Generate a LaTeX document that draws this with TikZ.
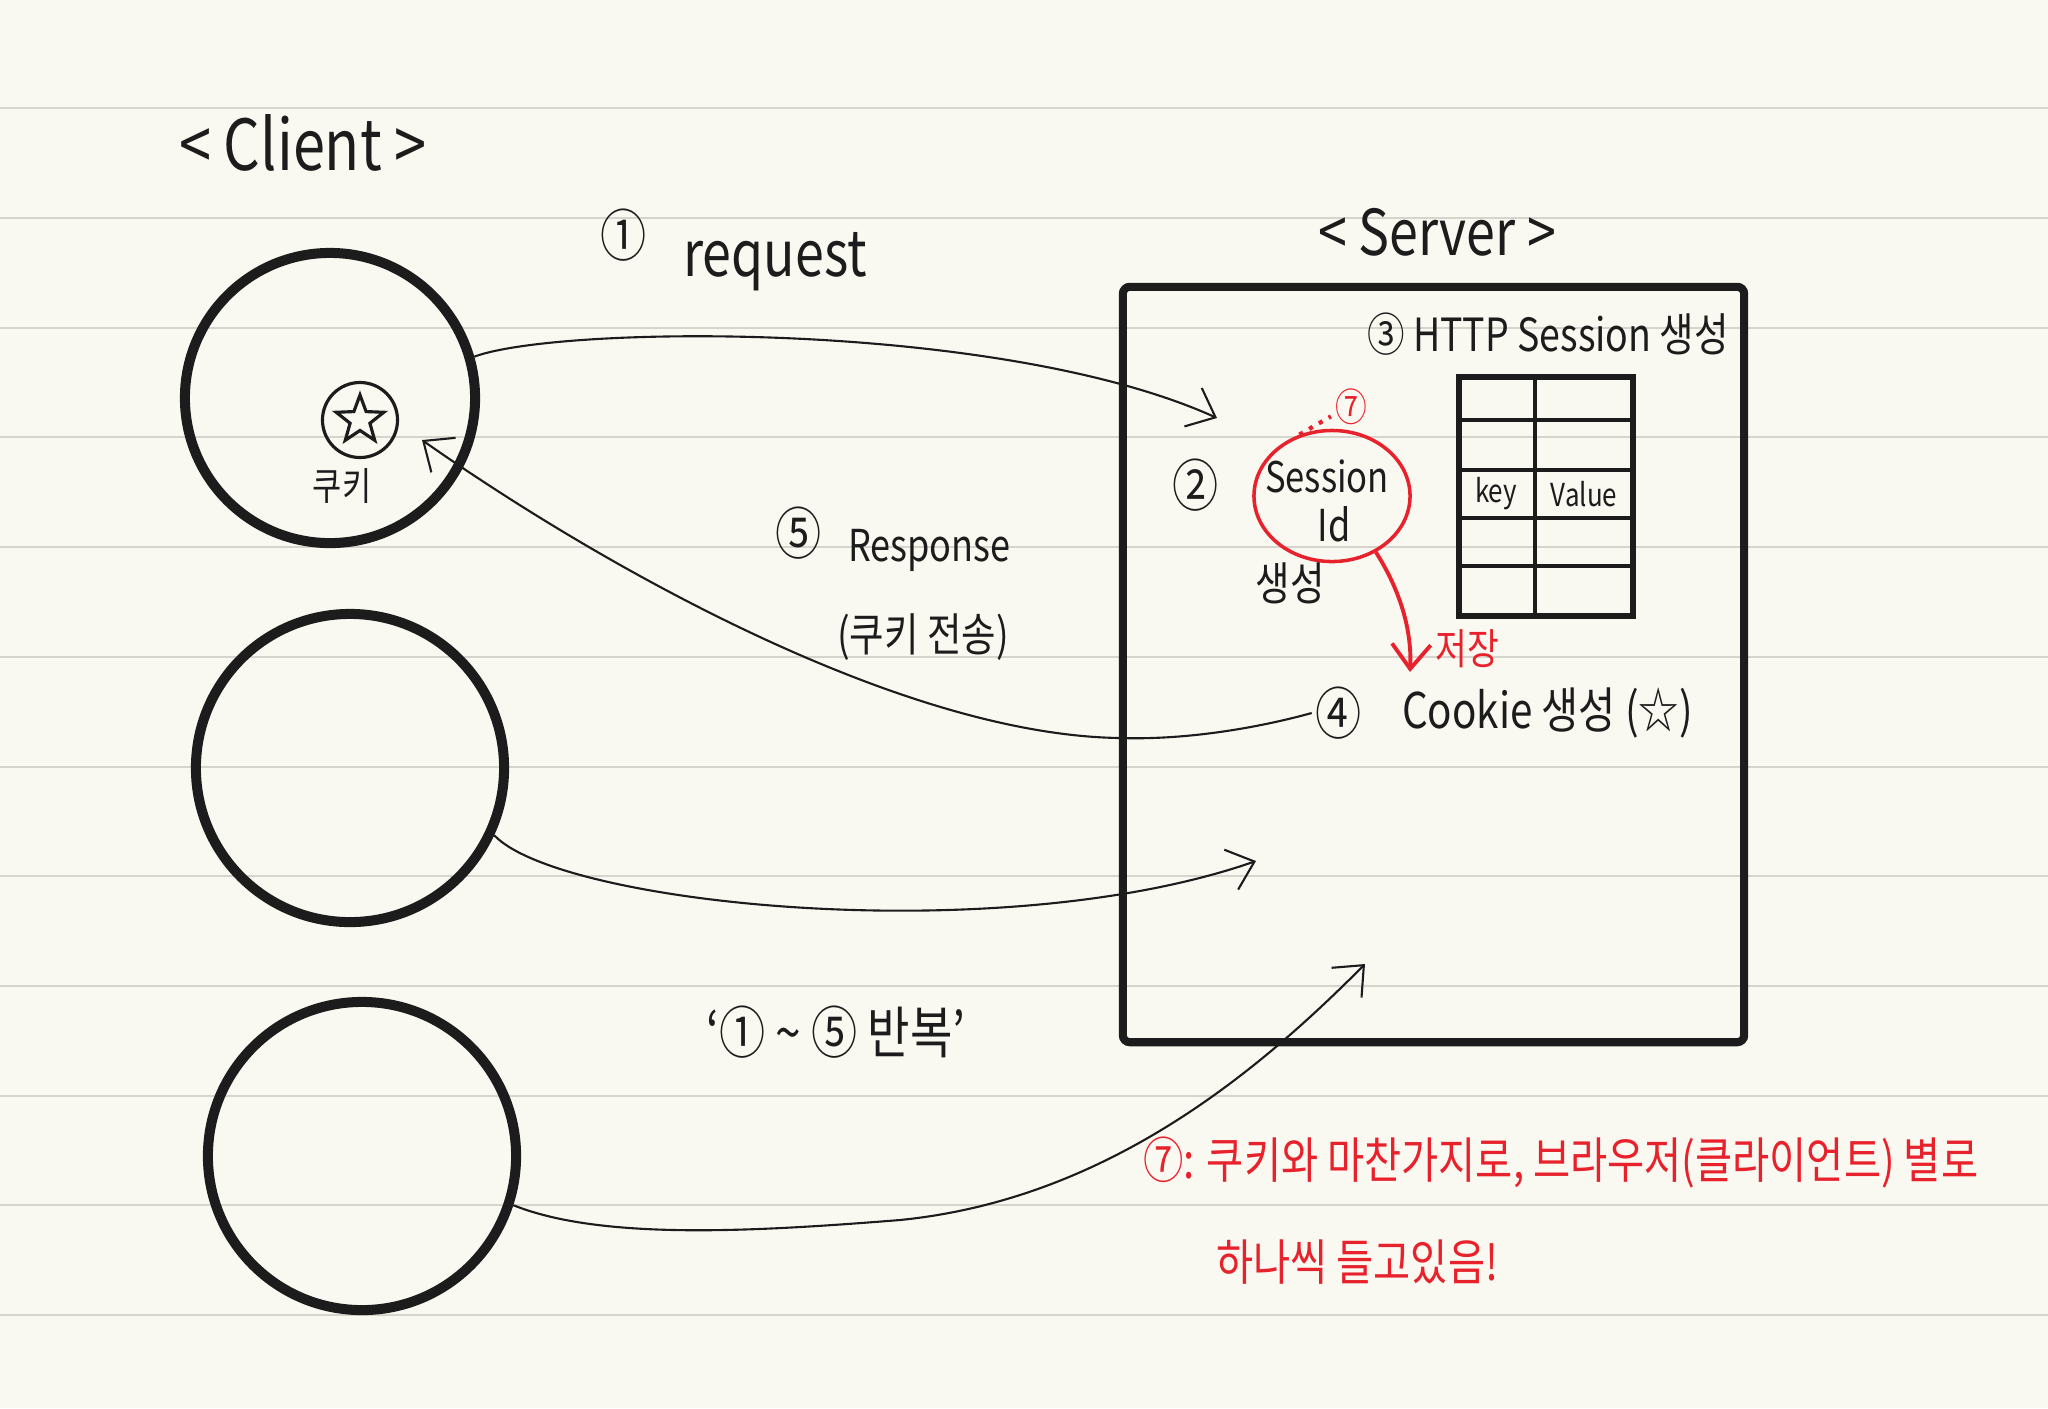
\documentclass[tikz,border=0pt]{standalone}
\usepackage{fontspec}
\setmainfont{Noto Sans CJK KR}[FakeStretch=0.82]
\usetikzlibrary{arrows.meta,shapes.geometric}
\definecolor{paper}{HTML}{FAF9F1}
\definecolor{ruleline}{HTML}{D6D5CD}
\definecolor{ink}{HTML}{1C1C1C}
\definecolor{pen}{HTML}{E8222C}
\newcommand\hwsize[1]{\fontsize{#1}{#1}\selectfont}
\tikzset{
  client/.style={circle, draw=ink, line width=2.85pt, inner sep=0pt},
  srvbox/.style={rectangle, draw=ink, line width=2.3pt, rounded corners=2pt, minimum width=6.21cm, minimum height=7.55cm},
  hw/.style={text=ink, inner sep=1pt},
  redtxt/.style={text=pen, inner sep=1pt},
  link/.style={draw=ink, line width=0.6pt, -{Straight Barb[length=7pt,width=12pt]}},
  redlink/.style={draw=pen, line width=1.1pt, -{Straight Barb[length=7pt,width=11pt]}},
  tbline/.style={draw=ink, line width=1.2pt},
}
\begin{document}
\begin{tikzpicture}[x=0.01cm,y=-0.01cm]
\fill[paper] (0,0) rectangle (2048,1408);
\useasboundingbox (0,0) rectangle (2048,1408);
\foreach \yy in {108,218,328,437,547,657,767,876,986,1096,1205,1315}
  \draw[ruleline, line width=0.6pt] (0,\yy) -- (2048,\yy);

% clients
\node[client, minimum size=2.9cm] (c1) at (330,398) {};
\node[client, minimum size=3.08cm] (c2) at (350,768) {};
\node[client, minimum size=3.08cm] (c3) at (362,1156) {};

% star cookie in client 1
\node[circle, draw=ink, line width=0.9pt, minimum size=0.75cm, inner sep=0pt] (starc) at (360,420) {};
\node[star, star points=5, star point ratio=2.4, draw=ink, line width=0.9pt, minimum size=0.5cm, inner sep=0pt] (st) at (starc) {};
\node[hw, font=\hwsize{11}] (ck) at (342,486) {쿠키};

% server
\node[srvbox] (server) at (1433.5,664.5) {};

% titles
\node[hw, font=\hwsize{20}] (lclient) at (303,143) {< Client >};
\node[hw, font=\hwsize{18}] (lserver) at (1437,232) {< Server >};
\node[hw, font=\hwsize{16}] (n1) at (624,235) {①};
\node[hw, font=\hwsize{18}] (req) at (775,262) {request};

% HTTP session table
\node[hw, font=\hwsize{13}] (n3) at (1548,334) {③ HTTP Session 생성};
\node[rectangle, draw=ink, line width=1.8pt, minimum width=1.74cm, minimum height=2.39cm, inner sep=0pt] (tbl) at (1546,496.5) {};
\draw[tbline] (1535,377) -- (1535,616);
\foreach \yy in {420,470,518,566} \draw[tbline] (1459,\yy) -- (1633,\yy);
\node[hw, font=\hwsize{9}] (key) at (1496,494) {key};
\node[hw, font=\hwsize{9}] (val) at (1584,494) {Value};

% session id
\node[hw, font=\hwsize{16}] (n2) at (1196,485) {②};
\node[ellipse, draw=pen, line width=1pt, minimum width=1.56cm, minimum height=1.31cm, inner sep=0pt] (sid) at (1332,496) {};
\node[hw, font=\hwsize{12}] (sess) at (1327,476) {Session};
\node[hw, font=\hwsize{12.5}] (idt) at (1334,524) {Id};
\node[hw, font=\hwsize{13}] (gen) at (1290,583) {생성};
\node[redtxt, font=\hwsize{11}] (q7) at (1351,407) {⑦};
\draw[pen, line width=1.2pt, dotted] (sid.118) -- (q7.205);

% save arrow
\coordinate (savept) at (1410,672);
\draw[redlink] (sid.-52) .. controls (1400,590) and (1412,630) .. (savept);
\node[redtxt, font=\hwsize{12}] (save) at (1467,649) {저장};

% cookie
\node[hw, font=\hwsize{16}] (n4) at (1339,713) {④};
\node[hw, font=\hwsize{14}, anchor=west] (cookie) at (1398,713) {Cookie 생성 (☆)};

% response label
\node[hw, font=\hwsize{16}] (n5) at (799,533) {⑤};
\node[hw, font=\hwsize{12.5}, anchor=west] (resp) at (844,550) {Response};
\node[hw, font=\hwsize{13}] (cksend) at (923,637) {(쿠키 전송)};

% repeat
\node[hw, font=\hwsize{16}] (rep) at (836,1032) {‘① \textasciitilde{} ⑤ 반복’};

% red note
\node[redtxt, font=\hwsize{14}, anchor=west] (note1) at (1139,1162) {⑦: 쿠키와 마찬가지로, 브라우저(클라이언트) 별로};
\node[redtxt, font=\hwsize{14}, anchor=west] (note2) at (1212,1262) {하나씩 들고있음!};

% connectors
\coordinate (reqend) at (1217,418);
\draw[link] (c1.16) .. controls (560,325) and (1000,320) .. (reqend);
\coordinate (respend) at (422,440);
\draw[link] (n4.west) .. controls (1250,730) and (1180,740) .. (1120,738) .. controls (900,735) and (600,565) .. (respend);
\coordinate (c2end) at (1256,861);
\draw[link] (c2.-25) .. controls (560,905) and (1000,950) .. (c2end);
\coordinate (c3end) at (1365,964);
\draw[link] (c3.-18) .. controls (600,1240) and (750,1232) .. (900,1220) .. controls (1100,1200) and (1250,1080) .. (c3end);
\end{tikzpicture}
\end{document}
